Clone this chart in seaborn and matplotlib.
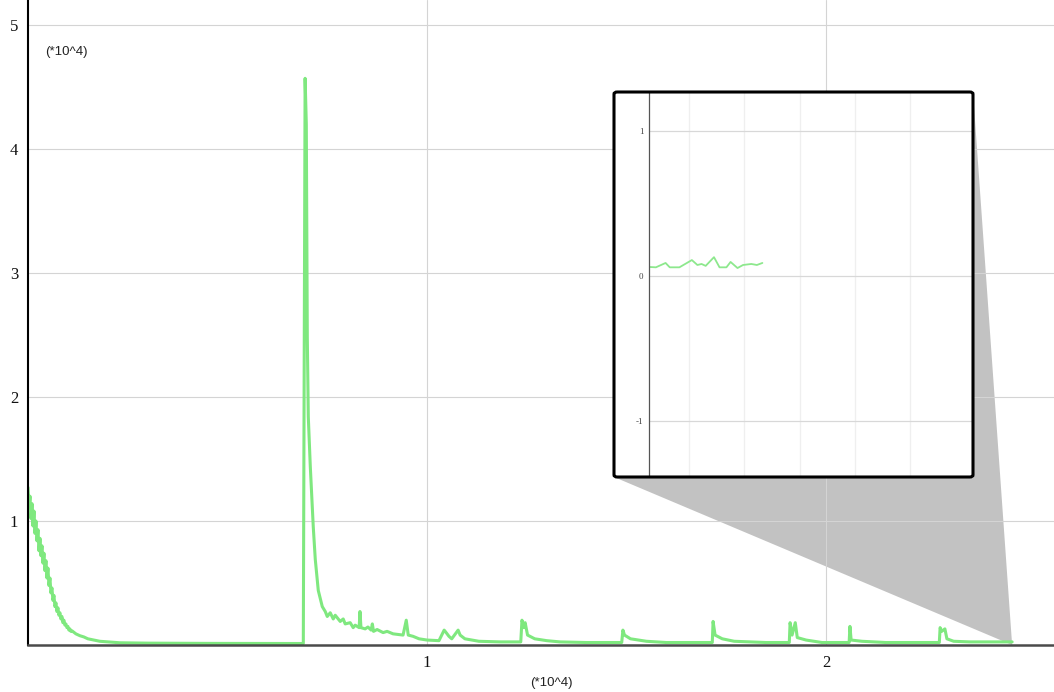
import numpy as np
import pandas as pd
import matplotlib
matplotlib.use("Agg")
import matplotlib.pyplot as plt
import matplotlib.patches as patches
import seaborn as sns

# Signal samples (raw units; axes show values in units of 10^4)
onset_x = list(range(0, 1101, 25)) + [1200, 1300, 1400, 1500, 1650, 1800, 2000,
                                       2300, 3000, 4500, 6000, 6900]
onset_y = [12700, 11200, 12000, 10200, 11400, 9600, 10800, 9000, 10000, 8400,
           9300, 7600, 8600, 7200, 8000, 6600, 7400, 6000, 6800, 5400,
           6200, 4800, 5400, 4200, 4600, 3600, 4000, 3100, 3400, 2700,
           3000, 2400, 2600, 2100, 2300, 1800, 2000, 1600, 1700, 1400,
           1500, 1200, 1300, 1100, 1150,
           900, 750, 650, 500, 400, 300, 250, 180, 150, 130, 120, 120]

burst_x = [6945, 6975, 7000, 7025, 7075, 7150, 7200, 7275, 7375, 7450, 7500, 7575,
           7650, 7700, 7825, 7900, 7950, 8075, 8150, 8200, 8300, 8320, 8345, 8450,
           8520, 8600, 8630, 8660, 8750, 8900, 9000, 9150, 9400, 9480, 9530, 9650,
           9800, 10000, 10300, 10430, 10480, 10550, 10620, 10780, 10830, 10950,
           11300, 11830, 12350, 12380, 12430, 12460, 12520, 12700, 13000, 13330,
           14000, 14880, 14910, 14950, 15100, 15500, 16000, 17150, 17170, 17220,
           17400, 17700, 18500, 19080, 19100, 19150, 19230, 19280, 19500, 19900,
           20580, 20600, 20630, 20900, 21500, 22840, 22860, 22900, 22980, 23030,
           23200, 23600, 24000, 24300, 24665]
burst_y = [45700, 42000, 24800, 18400, 14400, 9500, 6900, 4400, 3100, 2700, 2300, 2600,
           2100, 2400, 1900, 2100, 1700, 1800, 1400, 1600, 1400, 2700, 1400, 1300,
           1450, 1200, 1700, 1100, 1250, 1000, 1100, 900, 800, 2000, 800, 700,
           500, 400, 350, 1200, 1000, 700, 500, 1200, 800, 500,
           300, 250, 250, 2000, 1400, 1800, 800, 500, 350, 250,
           200, 200, 1200, 800, 500, 300, 200, 200, 1900, 800,
           500, 300, 200, 200, 1800, 800, 1800, 600, 400, 200,
           200, 1500, 400, 300, 200, 200, 1400, 1100, 1300, 500,
           300, 250, 250, 250, 250]

# Close-up of the last stretch of the trace, shown in the inset
tail_x = [24260, 24280, 24315, 24330, 24365, 24410, 24430, 24445, 24460, 24490,
          24510, 24535, 24550, 24575, 24595, 24625, 24645, 24665]
tail_y = [620, 600, 900, 600, 600, 1100, 760, 830, 700, 1300,
          600, 600, 970, 550, 760, 830, 760, 900]

y_ticks = [1, 2, 3, 4, 5]
x_ticks = [1, 2]
inset_y_ticks = [-1, 0, 1]
inset_x_grid = [2.44, 2.46, 2.48, 2.50, 2.52]
scale_label = "(*10^4)"

df = pd.DataFrame({
    "x": np.array(onset_x + burst_x) / 1e4,
    "y": np.array(onset_y + burst_y) / 1e4,
})
df_tail = pd.DataFrame({
    "x": np.array(tail_x) / 1e4,
    "y": np.array(tail_y) / 1e4,
})

sns.set_style("white")
plt.rcParams["font.family"] = ["Liberation Serif", "DejaVu Serif"]

W, H = 1054, 692
fig = plt.figure(figsize=(W / 100, H / 100), dpi=100)


def fx(px):
    return px / W


def fy(py):
    return 1 - py / H


GREEN = "#7fe87f"

# ---- main axes ----
ax = fig.add_axes([fx(28), fy(645), fx(1054) - fx(28), fy(0) - fy(645)])
ax.set_zorder(0)
sns.lineplot(data=df, x="x", y="y", ax=ax, color=GREEN, lw=2.2,
             estimator=None, sort=False, legend=False, zorder=2)
ax.set_xlim(0, 1026 / 399)
ax.set_ylim(0, 645 / 124)
ax.set_xticks(x_ticks)
ax.set_xticklabels([str(v) for v in x_ticks])
ax.set_yticks(y_ticks)
ax.set_yticklabels([str(v) for v in y_ticks])
ax.set_xlabel("")
ax.set_ylabel("")
ax.set_axisbelow(True)
ax.grid(True, color="#d4d4d4", lw=0.8)
for s in ("top", "right"):
    ax.spines[s].set_visible(False)
ax.spines["left"].set_color("black")
ax.spines["left"].set_linewidth(1.5)
ax.spines["bottom"].set_color("#4a4a4a")
ax.spines["bottom"].set_linewidth(1.8)
ax.tick_params(axis="both", direction="out", length=6, width=1.1, color="black",
               labelsize=12, pad=1, labelcolor="#111111")

fig.text(fx(45), fy(52), scale_label, family=["Liberation Sans", "DejaVu Sans"],
         fontsize=9.5, ha="left", va="center", color="#222222")
fig.text(fx(551), fy(683), scale_label, family=["Liberation Sans", "DejaVu Sans"],
         fontsize=9.5, ha="center", va="center", color="#222222")

# ---- zoom connector (grey wedge from the inset box to the end of the trace) ----
box_l, box_r, box_t, box_b = 614, 973, 92, 477
end_pt = fig.transFigure.inverted().transform(
    ax.transData.transform((df["x"].iloc[-1], 0)))
wedge = patches.Polygon(
    [(fx(box_l), fy(box_b)), tuple(end_pt), (fx(box_r), fy(box_t)),
     (fx(box_l), fy(box_t))],
    closed=True, transform=fig.transFigure, facecolor="#c2c2c2",
    edgecolor="none", zorder=0.3, clip_on=False)
ax.add_patch(wedge)

# ---- inset box ----
box_fill = patches.FancyBboxPatch(
    (fx(box_l), fy(box_b)), fx(box_r) - fx(box_l), fy(box_t) - fy(box_b),
    boxstyle="round,pad=0,rounding_size=0.003", transform=fig.transFigure,
    facecolor="white", edgecolor="none", zorder=1)
fig.add_artist(box_fill)

axin = fig.add_axes([fx(649), fy(476), fx(972) - fx(649), fy(93) - fy(476)])
axin.set_zorder(2)
sns.lineplot(data=df_tail, x="x", y="y", ax=axin, color="#8de88d", lw=1.3,
             estimator=None, sort=False, legend=False)
axin.set_xlim(2.4255, 2.5423)
axin.set_ylim(-1.379, 1.262)
axin.set_xticks(inset_x_grid)
axin.set_xticklabels([])
axin.set_yticks(inset_y_ticks)
axin.set_yticklabels([str(v) for v in inset_y_ticks])
axin.set_xlabel("")
axin.set_ylabel("")
axin.set_axisbelow(True)
axin.grid(True, axis="y", color="#d8d8d8", lw=0.9)
axin.grid(True, axis="x", color="#efefef", lw=0.9)
for s in ("top", "right", "bottom"):
    axin.spines[s].set_visible(False)
axin.spines["left"].set_color("#555555")
axin.spines["left"].set_linewidth(0.9)
axin.tick_params(axis="y", direction="out", length=3, width=0.8, color="#555555",
                 labelsize=6.5, pad=1, labelcolor="#444444")
axin.tick_params(axis="x", length=0)

box_edge = patches.FancyBboxPatch(
    (fx(box_l), fy(box_b)), fx(box_r) - fx(box_l), fy(box_t) - fy(box_b),
    boxstyle="round,pad=0,rounding_size=0.003", transform=fig.transFigure,
    facecolor="none", edgecolor="black", lw=2.2, zorder=3)
fig.add_artist(box_edge)

fig.savefig("out.png", dpi=100)
